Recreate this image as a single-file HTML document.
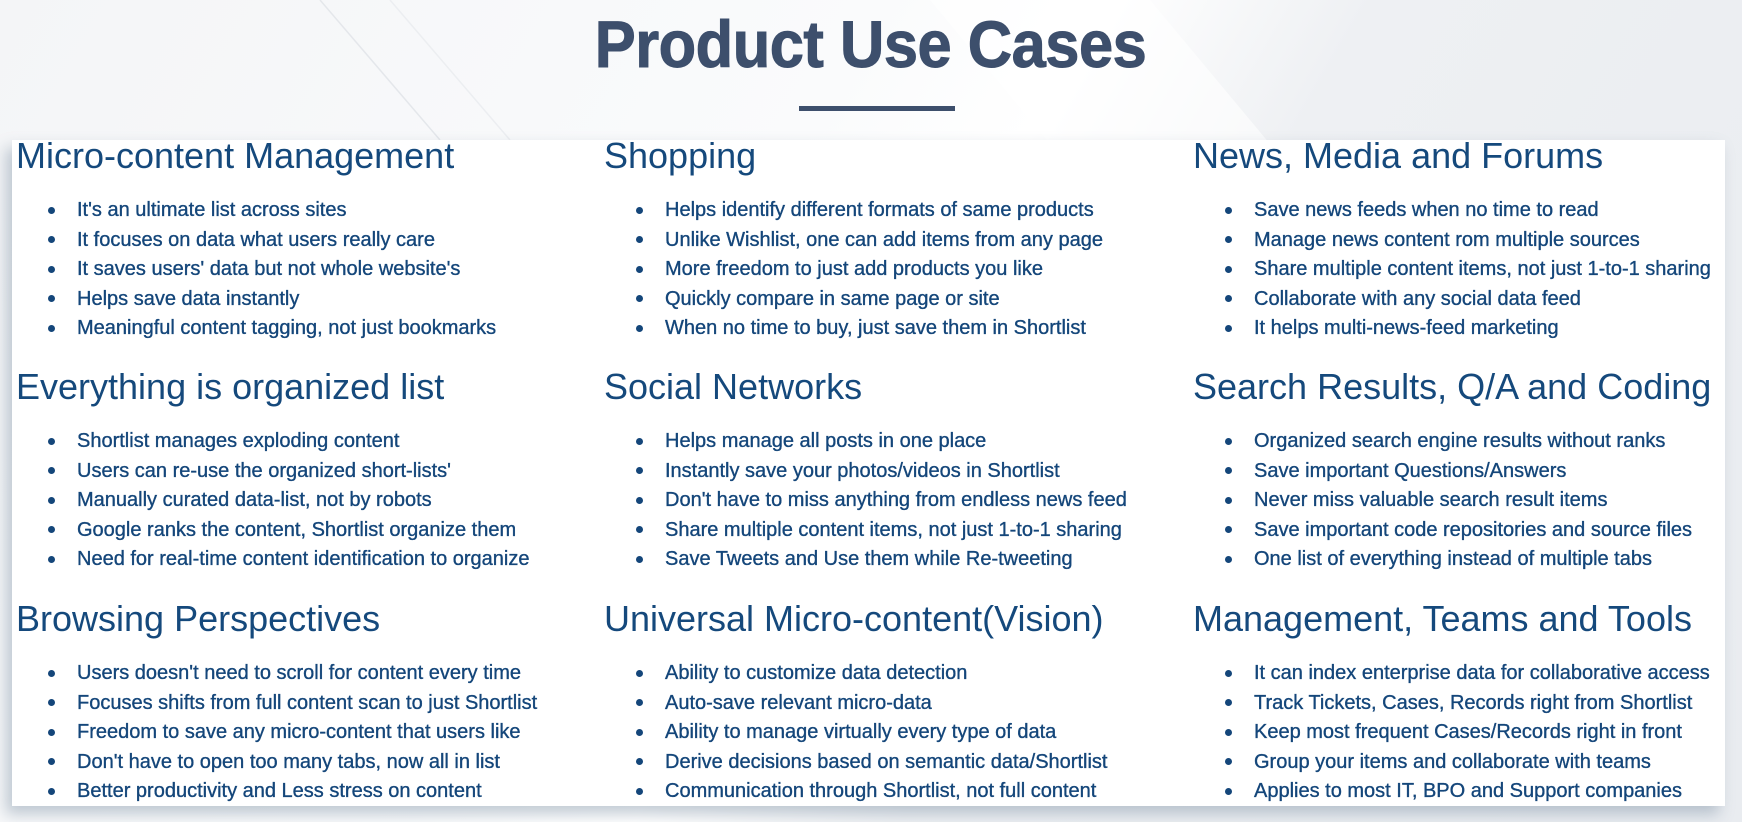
<!DOCTYPE html>
<html><head><meta charset="utf-8"><style>
html,body{margin:0;padding:0}
body{width:1742px;height:822px;overflow:hidden;position:relative;font-family:"Liberation Sans",sans-serif;
background:linear-gradient(120deg,#f4f5f7 0%,#fafbfc 40%,#ffffff 50%,#eef0f3 62%,#e9ecf0 100%);}
.diag{position:absolute;left:0;top:0;width:1742px;height:822px}
.title{position:absolute;left:0;width:1742px;top:6px;text-align:center;}
.title span{display:inline-block;font-weight:bold;font-size:66px;color:#3d4f6c;transform:scaleX(0.93);letter-spacing:-0.5px;-webkit-text-stroke:1px #3d4f6c}
.rule{position:absolute;left:799px;top:106px;width:156px;height:5px;background:#3d4f6c}
.panel{position:absolute;left:12px;top:140px;width:1713px;height:666px;background:#fff;box-shadow:-6px 8px 14px rgba(120,140,160,0.45)}
.h{position:absolute;font-size:36px;color:#15497c;white-space:nowrap;line-height:1}
.li{position:absolute;font-size:20px;color:#14467a;white-space:nowrap;line-height:1;-webkit-text-stroke:0.35px #14467a}
.b{position:absolute;width:7px;height:7px;border-radius:50%;background:#14467a}
</style></head><body>
<svg class="diag" viewBox="0 0 1742 822">
<polygon points="930,0 1150,0 1500,420 1280,420" fill="#ffffff" opacity="0.6"/>
<line x1="320" y1="0" x2="440" y2="140" stroke="#e4e7eb" stroke-width="1.5"/>
<line x1="390" y1="0" x2="510" y2="140" stroke="#eceef1" stroke-width="1.5"/>
</svg>
<div class="title"><span>Product Use Cases</span></div>
<div class="rule"></div>
<div class="panel"></div>
<div id="c"></div>
<script>
var cols=[16,604,1193];
var data=[
[["Micro-content Management",["It's an ultimate list across sites","It focuses on data what users really care","It saves users' data but not whole website's","Helps save data instantly","Meaningful content tagging, not just bookmarks"]],
["Everything is organized list",["Shortlist manages exploding content","Users can re-use the organized short-lists'","Manually curated data-list, not by robots","Google ranks the content, Shortlist organize them","Need for real-time content identification to organize"]],
["Browsing Perspectives",["Users doesn't need to scroll for content every time","Focuses shifts from full content scan to just Shortlist","Freedom to save any micro-content that users like","Don't have to open too many tabs, now all in list","Better productivity and Less stress on content"]]],
[["Shopping",["Helps identify different formats of same products","Unlike Wishlist, one can add items from any page","More freedom to just add products you like","Quickly compare in same page or site","When no time to buy, just save them in Shortlist"]],
["Social Networks",["Helps manage all posts in one place","Instantly save your photos/videos in Shortlist","Don't have to miss anything from endless news feed","Share multiple content items, not just 1-to-1 sharing","Save Tweets and Use them while Re-tweeting"]],
["Universal Micro-content(Vision)",["Ability to customize data detection","Auto-save relevant micro-data","Ability to manage virtually every type of data","Derive decisions based on semantic data/Shortlist","Communication through Shortlist, not full content"]]],
[["News, Media and Forums",["Save news feeds when no time to read","Manage news content rom multiple sources","Share multiple content items, not just 1-to-1 sharing","Collaborate with any social data feed","It helps multi-news-feed marketing"]],
["Search Results, Q/A and Coding",["Organized search engine results without ranks","Save important Questions/Answers","Never miss valuable search result items","Save important code repositories and source files","One list of everything instead of multiple tabs"]],
["Management, Teams and Tools",["It can index enterprise data for collaborative access","Track Tickets, Cases, Records right from Shortlist","Keep most frequent Cases/Records right in front","Group your items and collaborate with teams","Applies to most IT, BPO and Support companies"]]]];
var base=[168,399,631],h='';
function esc(s){return s.replace(/&/g,'&amp;').replace(/</g,'&lt;');}
for(var c=0;c<3;c++)for(var g=0;g<3;g++){
 var x=cols[c],y=base[g];
 h+='<div class="h" style="left:'+x+'px;top:'+(y-30)+'px">'+esc(data[c][g][0])+'</div>';
 for(var i=0;i<5;i++){var cy=y+42+i*29.5;
  h+='<div class="b" style="left:'+(x+32)+'px;top:'+(cy-3.5)+'px"></div>';
  h+='<div class="li" style="left:'+(x+61)+'px;top:'+(cy-10)+'px">'+esc(data[c][g][1][i])+'</div>';}
}
document.getElementById('c').innerHTML=h;
</script>
</body></html>
